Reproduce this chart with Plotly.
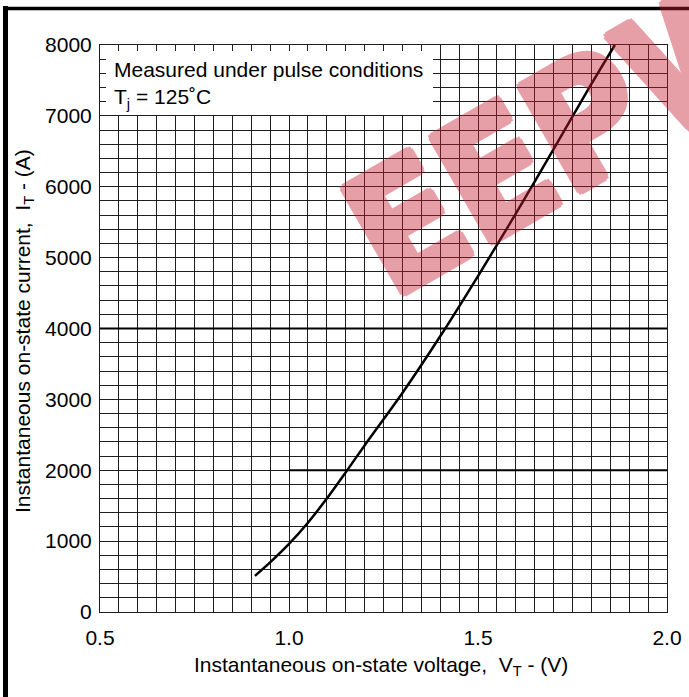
import plotly.graph_objects as go

# ---- data ----
voltage = [0.91, 0.95, 1.00, 1.05, 1.10, 1.15, 1.20, 1.30, 1.40, 1.50, 1.60, 1.70, 1.80, 1.862]
current = [510, 700, 960, 1260, 1600, 1970, 2350, 3090, 3890, 4740, 5620, 6530, 7450, 8000]

x_ticks = [0.5, 1.0, 1.5, 2.0]
x_tick_text = ["0.5", "1.0", "1.5", "2.0"]
y_ticks = [0, 1000, 2000, 3000, 4000, 5000, 6000, 7000, 8000]
y_tick_text = [str(v) for v in y_ticks]

note_lines = ["Measured under pulse conditions", "T<sub>j</sub> = 125˚C"]
x_title = "Instantaneous on-state voltage,\u00a0 V<sub>T</sub> - (V)"
y_title = "Instantaneous on-state current,\u00a0 I<sub>T</sub> - (A)"
watermark = "EEPW"

FONT = "Liberation Sans, Arial, sans-serif"
W, H = 689, 697
L, R, T, B = 100, 22, 45, 85
PW, PH = W - L - R, H - T - B


def px(xp):
    return (xp - L) / PW


def py(yp):
    return (H - B - yp) / PH


fig = go.Figure()
fig.add_trace(go.Scatter(
    x=voltage, y=current, mode="lines",
    line=dict(color="black", width=2.5, shape="spline", smoothing=0.8),
    hoverinfo="skip", showlegend=False,
))

grid_col = "#1e1e1e"
fig.update_xaxes(
    range=[0.5, 2.0], tickvals=x_ticks, ticktext=x_tick_text,
    showgrid=True, gridcolor=grid_col, gridwidth=1,
    minor=dict(dtick=0.05, showgrid=True, gridcolor=grid_col, gridwidth=1),
    zeroline=False, showline=True, mirror=True, linecolor=grid_col, linewidth=1,
    ticks="", ticklabelstandoff=7, automargin=False,
    tickfont=dict(family=FONT, size=21, color="black"),
)
fig.update_yaxes(
    range=[0, 8000], tickvals=y_ticks, ticktext=y_tick_text,
    showgrid=True, gridcolor=grid_col, gridwidth=1,
    minor=dict(dtick=200, showgrid=True, gridcolor=grid_col, gridwidth=1),
    zeroline=False, showline=True, mirror=True, linecolor=grid_col, linewidth=1,
    ticks="", ticklabelstandoff=3, automargin=False,
    tickfont=dict(family=FONT, size=21, color="black"),
)

shapes = [
    # heavier scanned grid lines
    dict(type="line", xref="x", yref="y", x0=0.5, x1=2.0, y0=4000, y1=4000,
         line=dict(color="black", width=2), layer="between"),
    dict(type="line", xref="x", yref="y", x0=1.0, x1=2.0, y0=2000, y1=2000,
         line=dict(color="black", width=2), layer="between"),
    # white box behind the note
    dict(type="rect", xref="x", yref="y", x0=0.516, x1=1.381, y0=7012, y1=7915,
         fillcolor="white", line=dict(width=0), layer="between"),
    # page frame (left and top thick edges)
    dict(type="line", xref="paper", yref="paper", x0=px(5.5), x1=px(5.5), y0=py(710), y1=py(6),
         line=dict(color="black", width=5), layer="above"),
    dict(type="line", xref="paper", yref="paper", x0=px(3), x1=px(700), y0=py(8.5), y1=py(8.5),
         line=dict(color="black", width=3.5), layer="above"),
]

wm_col = "rgb(200,29,48)"
offs = [(4, 0), (-4, 0), (0, 4), (0, -4), (3, 3), (-3, 3), (3, -3), (-3, -3),
        (2, 0), (-2, 0), (0, 2), (0, -2)]
wm_shadow = ", ".join(f"{a}px {b}px 0 {wm_col}" for a, b in offs)

annotations = [
    dict(text="<br>".join(note_lines), xref="paper", yref="paper",
         x=px(112), y=py(56), xanchor="left", yanchor="top", align="left",
         showarrow=False, font=dict(family=FONT, size=21, color="black")),
    dict(text=x_title, xref="paper", yref="paper", x=px(381), y=py(666),
         xanchor="center", yanchor="middle", showarrow=False,
         font=dict(family=FONT, size=21, color="black")),
    dict(text=y_title, xref="paper", yref="paper", x=px(24), y=py(331),
         xanchor="center", yanchor="middle", textangle=-90, showarrow=False,
         font=dict(family=FONT, size=21, color="black")),
    dict(text="<b>" + watermark + "</b>", xref="paper", yref="paper",
         x=px(570), y=py(130), xanchor="center", yanchor="middle",
         textangle=-30, showarrow=False, opacity=0.42,
         font=dict(family="DejaVu Sans Condensed, DejaVu Sans", size=166,
                   color=wm_col, shadow=wm_shadow)),
]

fig.update_layout(
    width=W, height=H,
    margin=dict(l=L, r=R, t=T, b=B),
    paper_bgcolor="white", plot_bgcolor="white",
    shapes=shapes, annotations=annotations,
    showlegend=False,
)

fig.write_html("out.html", config={"displayModeBar": False},
               post_script="document.body.style.margin='0px';")
